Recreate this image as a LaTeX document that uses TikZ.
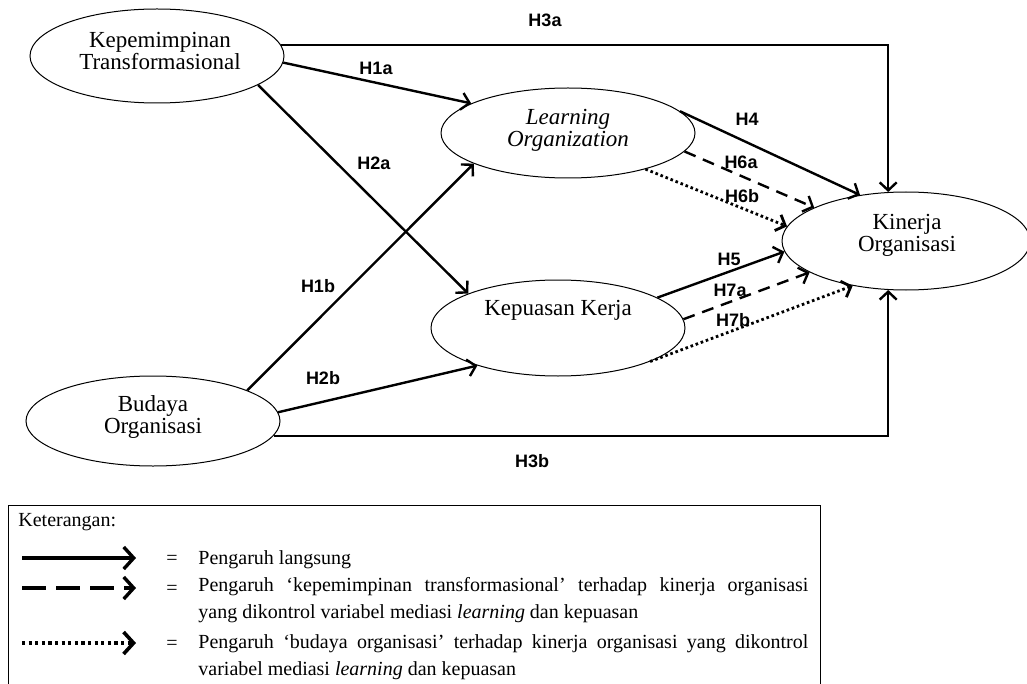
\documentclass[tikz,border=0pt]{standalone}
\usepackage{fontspec}
\setmainfont{Liberation Serif}
\newfontfamily\hfont{Liberation Sans}
\usetikzlibrary{arrows.meta}
\usetikzlibrary{shapes.geometric}

\begin{document}
\begin{tikzpicture}[x=0.5pt,y=-0.5pt,
 var/.style={draw,ellipse,line width=0.5pt,inner sep=0,minimum width=127pt},
 vartext/.style={align=center,inner sep=0,font=\fontsize{11.5}{11}\selectfont},
 hyp/.style={inner sep=1pt,font=\hfont\bfseries\fontsize{9}{9}\selectfont},
 effect/.style={line width=1.2pt,-{Straight Barb[length=4pt,width=8.5pt]}},
 viakt/.style={effect,dash pattern=on 6pt off 4pt},
 viabo/.style={effect,line width=1.4pt,dash pattern=on 1.3pt off 1.4pt},
 legtext/.style={inner sep=0,font=\fontsize{10}{13.5}\selectfont},
 legarrow/.style={line width=1.7pt,-{Straight Barb[length=5pt,width=11pt]}},
 leg1/.style={legarrow},
 leg2/.style={legarrow,dash pattern=on 12pt off 5pt},
 leg3/.style={legarrow,line width=1.8pt,dash pattern=on 1.6pt off 1.7pt}]
\useasboundingbox (0,0) rectangle (1027,684);
% variabel
\node[var,minimum height=47pt] (kt) at (157,56) {};
\node[var,minimum height=45pt] (lo) at (568,133) {};
\node[var,minimum height=48pt] (kk) at (558,328) {};
\node[var,minimum width=124pt,minimum height=49pt] (kp) at (906,241) {};
\node[var,minimum height=45pt] (bo) at (153,421) {};
\node[vartext] (kt-t) at (160,51) {Kepemimpinan\\Transformasional};
\node[vartext] (lo-t) at (568,130) {\itshape Learning\\\itshape Organization};
\node[vartext] (kk-t) at (558,310) {Kepuasan Kerja};
\node[vartext] (kp-t) at (907,235) {Kinerja\\Organisasi};
\node[vartext] (bo-t) at (153,417) {Budaya\\Organisasi};
% pengaruh langsung
\draw[effect] (kt.5) -| (kp.110);
\draw[effect] (bo.-7) -| (kp.-110);
\draw[effect] (kt.-3) -- (lo.163);
\draw[effect] (kt.-16) -- (kk.159);
\draw[effect] (bo.18) -- (lo.198);
\draw[effect] (bo.4) -- (kk.205);
\draw[effect] (lo.11) -- (kp.135);
\draw[effect] (kk.17) -- (kp.185);
% mediasi
\draw[viakt] (lo.-9) -- (kp.160);
\draw[viakt] (kk.4) -- (kp.198);
\draw[viabo] (lo.-25) -- (kp.173);
\draw[viabo] (kk.-20) -- (kp.220);
\foreach \h/\x/\y in {H3a/545/20,H1a/376/68,H2a/374/163,H1b/318/286,H2b/323/378,
 H3b/532/461,H4/747/119,H6a/741/162,H6b/742/196,H5/729/259,H7a/730/290,H7b/733/320} {
 \node[hyp] (\h) at (\x,\y) {\h};
}
% keterangan
\draw[line width=0.5pt] (8,700) |- (820,505) -- (820,700);
\node[legtext,anchor=west] (ket) at (18,522) {Keterangan:};
\foreach \i/\y in {1/558,2/588,3/643} {
 \coordinate (s\i) at (22,\y);
 \coordinate (e\i) at (136,\y);
 \draw[leg\i] (s\i) -- (e\i);
 \node[legtext] (eq\i) at (172,\y+2) {=};
}
\node[legtext,anchor=base west,text width=305pt,align=justify] (l1) at (198,564) {Pengaruh langsung};
\node[legtext,anchor=base west,text width=305pt,align=justify] (l2) at (198,591)
 {Pengaruh `kepemimpinan transformasional' terhadap kinerja organisasi\linebreak yang dikontrol variabel mediasi \textit{learning} dan kepuasan};
\node[legtext,anchor=base west,text width=305pt,align=justify] (l3) at (198,648)
 {Pengaruh `budaya organisasi' terhadap kinerja organisasi yang dikontrol\linebreak variabel mediasi \textit{learning} dan kepuasan};
\end{tikzpicture}
\end{document}
